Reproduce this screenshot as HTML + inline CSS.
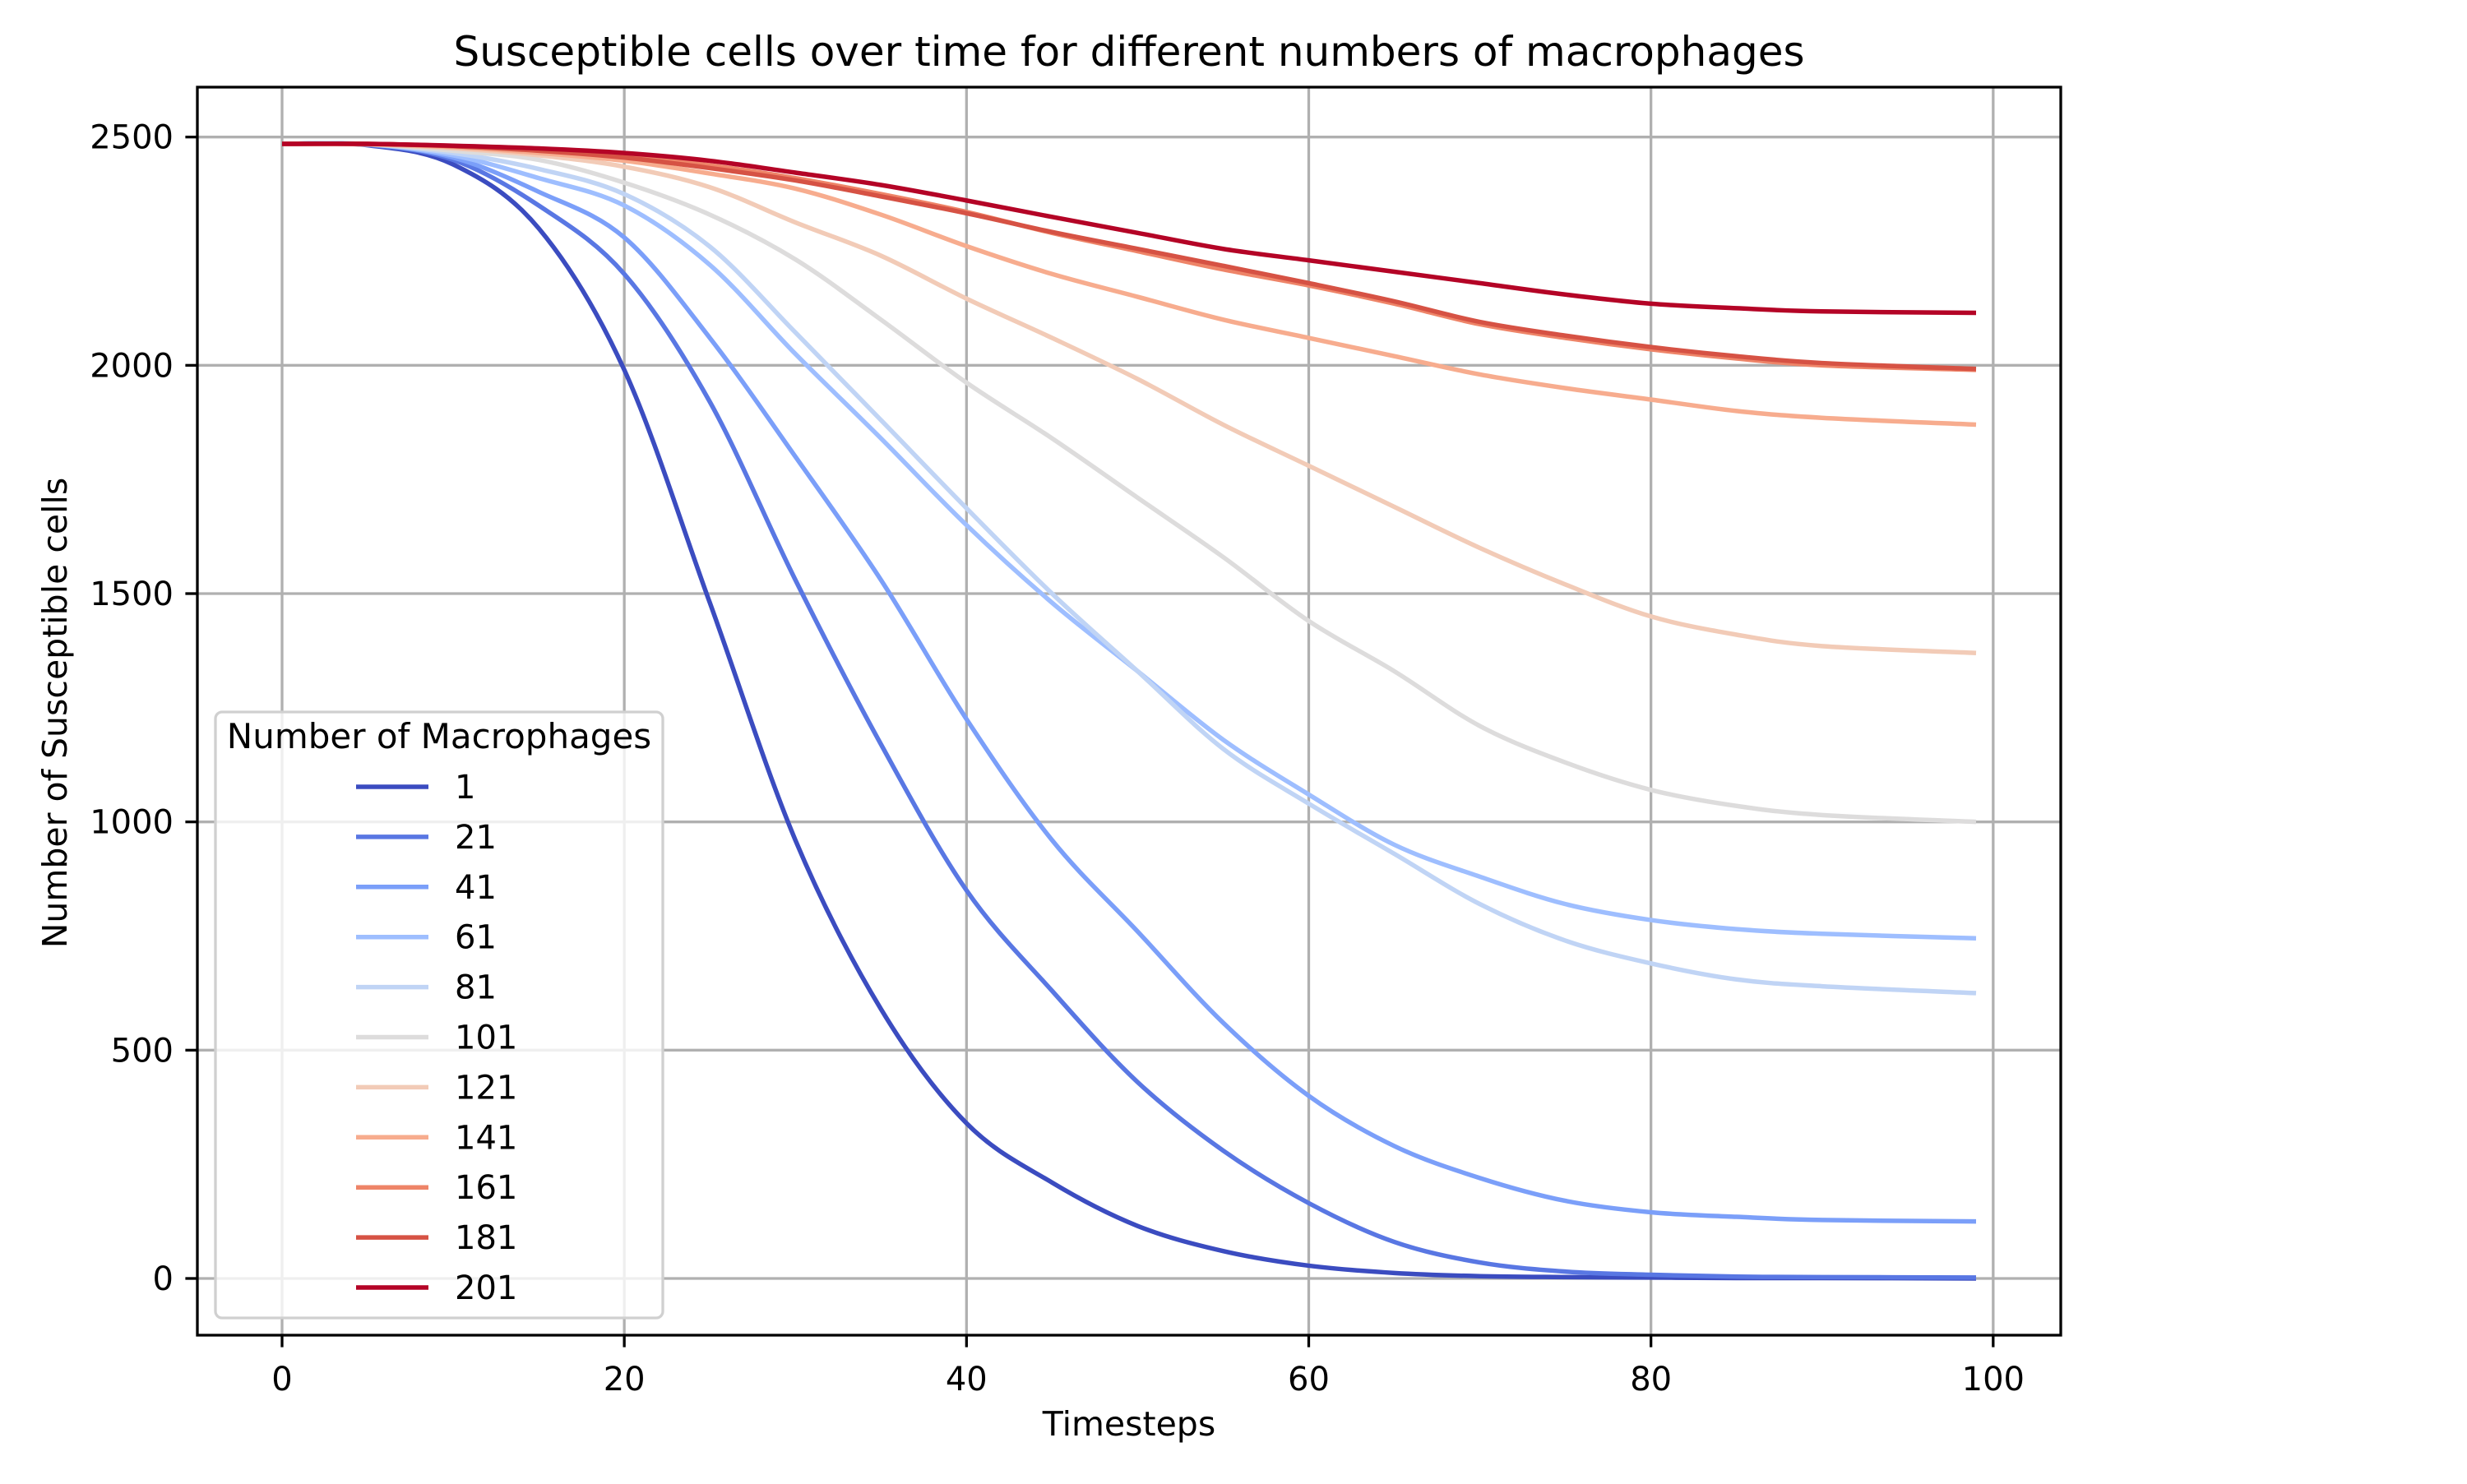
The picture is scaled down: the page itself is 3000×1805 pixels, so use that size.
<!DOCTYPE html>
<html><head><meta charset="utf-8"><style>
body{margin:0;background:#fff}
svg text{font-family:"DejaVu Sans","Liberation Sans",sans-serif;fill:#000}
</style></head><body>
<svg id="chart" width="3000" height="1800" viewBox="0 0 3000 1800" xmlns="http://www.w3.org/2000/svg">
<rect width="3000" height="1800" fill="#fff"/>
<g id="grid"></g>
<g id="series"></g>
<rect x="240" y="106" width="2266" height="1518" fill="none" stroke="#000" stroke-width="3.3"/>
<g id="ticks"></g>
<text x="1373" y="80" font-size="50" text-anchor="middle">Susceptible cells over time for different numbers of macrophages</text>
<text x="1373" y="1746" font-size="41" text-anchor="middle">Timesteps</text>
<text x="0" y="0" font-size="41" text-anchor="middle" transform="translate(81,867) rotate(-90)">Number of Susceptible cells</text>
<g id="legend"></g>
</svg>
<script>
const timesteps=[0,5,10,15,20,25,30,35,40,45,50,55,60,65,70,75,80,85,90,99];
const seriesLabels=["1","21","41","61","81","101","121","141","161","181","201"];
const seriesColors=["#3b4cc0","#5977e3","#7b9ff9","#9ebeff","#c0d4f5","#dddcdc","#f2cbb7","#f7ac8e","#ee8468","#d65244","#b40426"];
const s1=[2485,2482,2440,2300,1990,1480,960,590,340,210,115,60,28,12,5,3,2,1,1,0];
const s21=[2485,2483,2450,2350,2200,1920,1530,1170,850,630,430,280,165,80,35,15,8,4,3,2];
const s41=[2485,2484,2455,2380,2280,2060,1800,1530,1225,960,760,560,400,290,220,170,145,135,128,125];
const s61=[2485,2484,2460,2410,2350,2220,2025,1840,1650,1480,1330,1180,1060,950,880,820,785,765,755,745];
const s81=[2485,2484,2465,2430,2375,2260,2072,1880,1687,1500,1330,1160,1040,930,820,740,690,655,640,625];
const s101=[2485,2484,2470,2450,2400,2330,2232,2100,1962,1840,1710,1580,1440,1330,1210,1130,1070,1035,1015,1000];
const s121=[2485,2484,2475,2460,2435,2390,2313,2240,2146,2060,1970,1870,1780,1690,1600,1520,1450,1410,1385,1370];
const s141=[2485,2484,2478,2465,2448,2420,2387,2330,2261,2200,2150,2100,2060,2020,1980,1950,1925,1900,1885,1870];
const s161=[2485,2485,2480,2472,2458,2438,2410,2375,2336,2290,2250,2210,2175,2135,2090,2060,2035,2015,2000,1990];
const s181=[2485,2485,2480,2470,2455,2432,2405,2370,2333,2292,2255,2218,2180,2140,2095,2065,2040,2020,2005,1992];
const s201=[2485,2485,2481,2475,2465,2448,2422,2395,2361,2325,2290,2255,2230,2205,2180,2155,2135,2125,2118,2115];
const allSeries=[s1,s21,s41,s61,s81,s101,s121,s141,s161,s181,s201];
const xTicks=[0,20,40,60,80,100];
const yTicks=[0,500,1000,1500,2000,2500];

const NS="http://www.w3.org/2000/svg";
const X0=240,X1=2506,Y0=1624,Y1=106,xmin=-4.95,xmax=103.95,ymin=-124.25,ymax=2609.25;
function xs(v){return X0+(v-xmin)/(xmax-xmin)*(X1-X0);}
function ys(v){return Y0-(v-ymin)/(ymax-ymin)*(Y0-Y1);}
function mk(tag,attrs,parent){const e=document.createElementNS(NS,tag);for(const k in attrs)e.setAttribute(k,attrs[k]);parent.appendChild(e);return e;}
const grid=document.getElementById('grid'),ticks=document.getElementById('ticks'),ser=document.getElementById('series'),leg=document.getElementById('legend');
xTicks.forEach(t=>{
  const l=mk('line',{x1:xs(t),x2:xs(t),y1:Y1,y2:Y0,stroke:'#b0b0b0','stroke-width':3.3},grid);
  
  
  const tk=mk('line',{x1:xs(t),x2:xs(t),y1:Y0,y2:Y0+14.6,stroke:'#000','stroke-width':3.3},ticks);
  
  
  const tx=mk('text',{x:xs(t),y:Y0+67,'font-size':40,'text-anchor':'middle'},ticks);
  tx.textContent=t;
  
  
});
yTicks.forEach(t=>{
  const l=mk('line',{x1:X0,x2:X1,y1:ys(t),y2:ys(t),stroke:'#b0b0b0','stroke-width':3.3},grid);
  
  
  const tk=mk('line',{x1:X0-14.6,x2:X0,y1:ys(t),y2:ys(t),stroke:'#000','stroke-width':3.3},ticks);
  
  
  const tx=mk('text',{x:X0-29,y:ys(t)+14,'font-size':40,'text-anchor':'end'},ticks);
  tx.textContent=t;
  
  
});
function smoothPath(pts){
  let d='M'+pts[0][0]+','+pts[0][1];
  for(let i=0;i<pts.length-1;i++){
    const p0=pts[Math.max(0,i-1)],p1=pts[i],p2=pts[i+1],p3=pts[Math.min(pts.length-1,i+2)];
    const c1x=p1[0]+(p2[0]-p0[0])/6,c1y=p1[1]+(p2[1]-p0[1])/6;
    const c2x=p2[0]-(p3[0]-p1[0])/6,c2y=p2[1]-(p3[1]-p1[1])/6;
    d+=' C'+c1x+','+c1y+' '+c2x+','+c2y+' '+p2[0]+','+p2[1];
  }
  return d;
}
allSeries.forEach((s,i)=>{
  const pts=s.map((v,j)=>[xs(timesteps[j]),ys(v)]);
  const p=mk('path',{d:smoothPath(pts),fill:'none',stroke:seriesColors[i],'stroke-width':5.5,'stroke-linejoin':'round'},ser);
  
  
});
const box=mk('rect',{x:262,y:866,width:544,height:737,rx:8,fill:'#fff','fill-opacity':0.8,stroke:'#d0d0d0','stroke-width':3.3},leg);


const lt=mk('text',{x:534,y:910,'font-size':42,'text-anchor':'middle'},leg);
lt.textContent='Number of Macrophages';


seriesLabels.forEach((lab,i)=>{
  const y=957+i*60.9;
  const l=mk('line',{x1:433,x2:521,y1:y,y2:y,stroke:seriesColors[i],'stroke-width':5.5},leg);
  
  
  const t=mk('text',{x:553,y:y+14,'font-size':40},leg);
  t.textContent=lab;
  
  
});
</script>
</body></html>
